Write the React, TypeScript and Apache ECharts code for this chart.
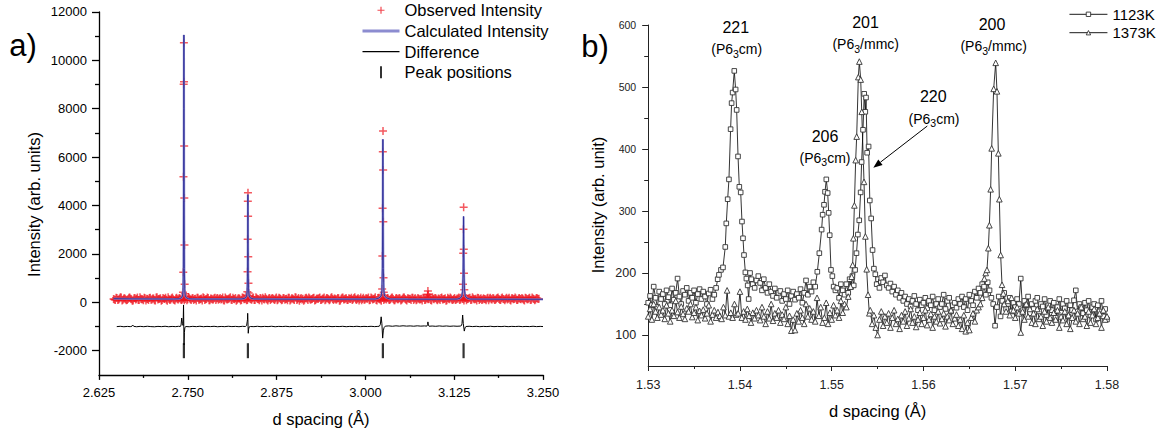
import React, { useEffect, useRef } from 'react';
import * as echarts from 'echarts';

const FONT = 'Liberation Sans, Arial, Helvetica, sans-serif';

// ---------------- Panel a) ----------------
const obsStart = 2.6455;
const obsStep = 0.0024;
const obsNoise = [
  140,95,180,120,210,75,160,130,100,190,145,60,170,115,200,90,150,125,185,70,
  135,175,105,160,85,195,120,150,65,180,140,110,205,95,165,130,75,190,120,155,
  100,170,135,80,215,125,160,90,145,185,110,140,70,175,130,195,85,155,120,165,
  95,180,140,115,200,75,150,130,170,105,190,125,60,160,145,100,185,135,80,170,
  150,110,195,90,165,130,175,70,140,205,115,155,95,180,125,160,85,190,135,105,
  170,140,80,185,120,155,100,200,130,65,175,145,110,190,90,160,125,180,75,150,
  135,195,105,160,85,175,140,120,210,95,150,130,170,70,185,115,155,100,165,140,
  90,180,125,150,75,195,135,110,170,145,85,200,120,160,100,175,130,65,185,150,
  115,165,95,190,140,80,175,125,155,105,195,135,70,160,145,185,90,170,120,150,
  130,75,185,110,160,140,95,205,125,170,85,150,180,115,140,65,190,130,160,100,
  175,120,150,90,195,135,165,80,145,185,110,160,125,70,180,140,100,170,130,155,
  85,190,120,160,105,175,140,95,200,130,150,115,185,75,165,135,155,100,180,125,
  145,70,170,130,190,110,155,85,175,140,
];
// second interleaved set of observed points (offset by half a step)
const obsNoiseB = [
  120,185,90,155,200,110,165,80,140,195,125,70,180,150,100,210,130,85,170,145,
  95,190,115,160,75,205,135,170,100,150,185,65,140,120,195,90,160,130,175,105,
  145,80,200,125,165,95,180,140,70,190,115,155,205,100,135,175,85,150,120,190,
  160,105,175,135,85,195,120,150,210,90,140,180,110,165,75,200,130,155,95,185,
  125,170,100,205,140,80,160,190,115,145,70,180,135,155,100,195,120,165,85,175,
  110,150,190,75,165,130,205,95,180,140,120,60,170,150,195,105,135,185,90,160,
  180,100,145,200,120,165,80,190,135,155,105,175,65,145,200,125,170,95,150,185,
  130,205,95,165,140,80,185,115,155,195,100,170,135,210,75,150,120,180,90,160,
  175,105,140,195,85,160,125,180,70,150,200,110,165,135,95,190,145,80,175,120,
  150,185,100,165,130,205,75,145,180,115,160,95,195,125,170,85,150,200,110,140,
  90,160,195,120,145,75,180,135,165,100,205,125,150,185,95,170,115,140,80,190,
  160,125,175,95,150,200,110,165,135,80,185,145,105,170,125,195,90,155,140,175,
  105,185,130,160,95,200,140,115,170,150,
];
const obsPeak1 = [[2.7428,250],[2.7432,420],[2.7436,1240],[2.7439,5190],[2.7442,9008],[2.7445,10727],[2.7447,9116],[2.7449,6459],[2.7451,4310],[2.7453,2368],[2.7456,744],[2.746,350],[2.7464,240]];
const obsPeak2 = [[2.8334,300],[2.8338,438],[2.8341,1264],[2.8343,2603],[2.8345,4173],[2.8347,4529],[2.8349,3554],[2.8351,1884],[2.8354,785],[2.8358,380],[2.8362,260]];
const obsPeak3 = [[3.0232,320],[3.0236,550],[3.0239,1913],[3.0242,3884],[3.0245,6223],[3.0248,7078],[3.025,5467],[3.0252,3331],[3.0255,1017],[3.0259,420],[3.0263,260]];
const obsSmall = [[3.0876,300],[3.088,467],[3.0884,330]];
const obsPeak4 = [[3.137,300],[3.1374,744],[3.1377,2025],[3.138,3017],[3.1383,3926],[3.1385,2190],[3.1388,1198],[3.1392,520],[3.1397,280]];

const calcCurve = [
  [2.6455,150],[2.67,142],[2.7,138],[2.73,135],[2.738,145],[2.741,185],[2.7425,260],[2.7433,480],[2.7438,1400],[2.7441,4200],[2.7443,8000],[2.7445,11050],[2.7447,8000],[2.7449,4200],[2.7452,1400],[2.7457,480],[2.7465,260],[2.748,185],[2.751,145],[2.76,135],
  [2.8,132],[2.826,138],[2.831,175],[2.8328,260],[2.8336,470],[2.8341,1200],[2.8344,2700],[2.8346,4450],[2.8348,2700],[2.8351,1200],[2.8356,470],[2.8364,260],[2.8382,175],[2.843,138],[2.87,130],
  [2.95,128],[3.014,135],[3.019,175],[3.0222,260],[3.0232,480],[3.0239,1400],[3.0243,3600],[3.0246,6735],[3.0249,3600],[3.0253,1400],[3.026,480],[3.027,260],[3.0302,175],[3.035,135],[3.06,128],
  [3.1,126],[3.129,132],[3.1335,170],[3.1358,260],[3.1368,460],[3.1375,1150],[3.1379,2300],[3.1382,3550],[3.1385,2300],[3.1389,1150],[3.1396,460],[3.1406,260],[3.1429,170],[3.1475,132],[3.2,126],[3.25,124],
];

const diffCurve = [
  [2.65,-1005],[2.655,-992],[2.66,-1010],[2.665,-996],[2.669,-1006],[2.6715,-985],[2.6727,-945],[2.674,-995],[2.678,-1010],[2.683,-994],[2.688,-1008],[2.693,-990],[2.698,-1004],[2.703,-1012],[2.708,-995],[2.713,-1006],[2.718,-990],[2.723,-1010],[2.728,-997],[2.733,-1006],[2.737,-992],[2.7395,-1000],
  [2.7405,-940],[2.7414,-650],[2.7424,-880],[2.7434,-960],[2.744,-110],[2.7447,-1760],[2.7452,-1250],[2.7458,-1060],[2.747,-1000],
  [2.752,-1010],[2.757,-994],[2.762,-1006],[2.767,-990],[2.772,-1008],[2.777,-996],[2.782,-1004],[2.787,-992],[2.792,-1010],[2.797,-998],[2.802,-1006],[2.807,-990],[2.812,-1004],[2.817,-995],[2.822,-1008],[2.827,-992],
  [2.831,-1000],[2.8328,-960],[2.8336,-800],[2.834,-720],[2.8343,-455],[2.8347,-820],[2.8351,-1280],[2.8356,-1110],[2.8363,-1020],[2.838,-1000],
  [2.843,-1006],[2.848,-992],[2.853,-1008],[2.858,-996],[2.863,-1004],[2.868,-990],[2.873,-1010],[2.878,-995],[2.883,-1003],[2.888,-991],[2.893,-1007],[2.898,-997],[2.903,-1005],[2.908,-990],[2.913,-1009],[2.918,-996],[2.923,-1002],[2.928,-993],[2.933,-1008],[2.938,-995],[2.943,-1004],[2.948,-990],[2.953,-1006],[2.958,-997],[2.963,-1003],[2.968,-992],[2.973,-1008],[2.978,-996],[2.983,-1004],[2.988,-991],[2.993,-1006],[2.998,-995],[3.003,-1003],[3.008,-992],[3.013,-1005],[3.0175,-996],
  [3.0195,-990],[3.021,-920],[3.0222,-600],[3.0232,-880],[3.0243,-1480],[3.0252,-1180],[3.0262,-1050],[3.028,-985],
  [3.033,-975],[3.038,-990],[3.043,-972],[3.048,-986],[3.053,-970],[3.058,-984],[3.063,-975],[3.068,-988],[3.073,-972],[3.078,-985],[3.083,-976],
  [3.0865,-985],[3.0875,-920],[3.088,-810],[3.0887,-940],[3.0897,-990],
  [3.094,-980],[3.099,-992],[3.104,-976],[3.109,-990],[3.114,-978],[3.119,-992],[3.124,-980],[3.129,-990],[3.1335,-982],
  [3.1352,-960],[3.136,-880],[3.1369,-525],[3.1378,-880],[3.1392,-1190],[3.1402,-1060],[3.1415,-1000],
  [3.146,-990],[3.151,-1004],[3.156,-992],[3.161,-1008],[3.166,-995],[3.171,-1003],[3.176,-990],[3.181,-1006],[3.186,-996],[3.191,-1004],[3.196,-991],[3.201,-1007],[3.206,-995],[3.211,-1002],[3.216,-992],[3.221,-1006],[3.226,-997],[3.231,-1004],[3.236,-990],[3.241,-1005],[3.246,-996],[3.25,-1002],
];

const peakPositions = [2.7445, 2.8346, 3.0246, 3.1382];
const peakTickLevel = -2000;

const leftYMajor = [-2000, 0, 2000, 4000, 6000, 8000, 10000, 12000];
const leftYMinor = [-1000, 1000, 3000, 5000, 7000, 9000, 11000];

// ---------------- Panel b) ----------------
const gridStart = 1.53;
const gridStep = 0.0002;
const N = null;
const bg1123 = [
  152,163,148,178,160,145,170,158,166,150,
  172,161,148,175,157,168,191,162,150,171,
  165,176,155,168,160,172,152,166,174,158,
  170,162,150,167,173,158,165,176,N,N,
  N,N,N,N,N,N,N,N,N,N,
  N,N,N,N,N,N,N,N,176,188,
  195,184,172,190,176,168,182,170,163,175,
  160,168,171,155,166,158,172,150,163,170,
  157,166,160,174,152,168,188,165,178,170,
  185,178,N,N,N,N,N,N,N,N,
  N,N,172,176,160,182,172,165,N,N,
  N,N,N,N,N,N,N,N,N,N,
  N,N,N,N,N,N,N,192,185,196,
  180,176,183,170,178,165,172,160,168,155,
  162,150,158,146,155,163,150,140,157,148,
  152,160,143,155,148,162,140,150,158,145,
  150,165,142,155,160,138,148,152,144,158,
  150,162,145,158,140,165,155,148,170,160,
  175,168,182,178,165,185,172,160,150,115,
  145,162,130,155,168,142,150,160,138,152,
  145,158,150,191,140,155,148,162,135,150,
  142,155,160,138,150,146,158,132,148,155,
  140,152,128,145,158,136,150,143,155,130,
  148,140,156,172,138,150,145,135,152,140,
  155,132,145,150,125,148,138,155,130,142,125,
];
const peak221 = [[1.53757,190],[1.53771,197],[1.53793,205],[1.53815,209],[1.5384,242],[1.53851,280],[1.53866,319],[1.5388,351],[1.53898,432],[1.53909,474],[1.5392,491],[1.53938,526],[1.53953,496],[1.53964,463],[1.53979,388],[1.53993,339],[1.54008,330],[1.54022,283],[1.54033,256],[1.54044,229],[1.54059,201],[1.5407,191],[1.54084,180],[1.54095,158],[1.5411,200],[1.54124,190],[1.54139,182]];
const peak206 = [[1.54843,202],[1.54865,232],[1.5489,270],[1.54901,294],[1.54916,310],[1.54927,331],[1.54941,351],[1.54956,329],[1.54967,297],[1.54978,261],[1.54992,205],[1.55007,195],[1.55021,178]];
const peak220 = [[1.5516,182],[1.5518,168],[1.55195,190],[1.5521,178],[1.55225,195],[1.5524,180],[1.55255,205],[1.5527,232],[1.55285,262],[1.553,285],[1.55315,330],[1.55326,379],[1.55341,431],[1.55354,489],[1.55366,460],[1.55374,483],[1.55386,394],[1.55402,404],[1.55415,317],[1.5543,288],[1.55445,237],[1.5546,207],[1.55475,198],[1.5549,182],[1.55505,190],[1.5552,176],[1.55535,186]];

const bg1373 = [
  130,142,125,150,138,128,145,133,140,126,
  148,135,122,140,131,155,137,128,146,134,
  126,143,138,150,129,136,145,124,139,132,
  141,127,135,148,122,133,140,128,137,131,
  126,145,132,172,130,136,128,150,133,135,
  170,128,138,125,142,131,120,136,127,140,
  132,124,145,130,118,138,127,150,123,135,
  128,140,120,133,126,145,118,131,107,125,
  108,135,122,140,128,118,150,130,143,125,
  138,122,160,131,145,120,128,152,118,136,
  125,148,132,140,128,155,136,150,145,162,
  N,N,N,N,N,N,N,N,N,N,
  N,140,118,132,112,100,125,138,115,130,
  120,135,112,128,140,118,126,110,132,122,
  138,115,127,142,120,130,113,125,136,118,
  128,140,116,125,134,112,130,122,138,119,
  126,135,114,130,124,140,118,127,133,115,
  125,110,132,106,120,108,128,135,122,140,
  145,150,160,N,N,N,N,N,N,N,
  N,N,N,N,150,138,155,132,160,140,
  128,145,135,104,138,125,150,130,142,120,
  135,118,142,126,130,115,138,122,145,128,
  120,136,125,140,112,130,124,138,118,132,
  110,128,140,122,135,118,145,126,130,115,
  138,120,132,142,118,128,135,112,140,125,130,
];
const peak201 = [[1.55205,178],[1.55217,194],[1.55228,213],[1.55236,256],[1.55247,309],[1.55261,382],[1.55272,420],[1.5529,516],[1.55301,541],[1.55316,512],[1.55327,460],[1.55352,347],[1.55367,259],[1.55381,206],[1.55396,165],[1.5541,135]];
const peak200 = [[1.56663,191],[1.56678,200],[1.56692,205],[1.56707,240],[1.56718,277],[1.56732,335],[1.56743,401],[1.56765,497],[1.56787,539],[1.56801,493],[1.56816,393],[1.56827,319],[1.56841,229],[1.56856,181],[1.5687,167]];

const rightYMajor = [100, 200, 300, 400, 500, 600];
const rightYMinor = [150, 250, 350, 450, 550];

function mergeSeries(bg: (number | null)[], start: number, step: number, peaks: number[][][]) {
  const pts: number[][] = [];
  bg.forEach((v, i) => {
    if (v !== null) pts.push([+(start + i * step).toFixed(5), v]);
  });
  peaks.forEach((p) => p.forEach((q) => pts.push(q)));
  pts.sort((a, b) => a[0] - b[0]);
  return pts;
}

function buildOption() {
  const obsData: number[][] = obsNoise.map((v, i) => [+(obsStart + i * obsStep).toFixed(4), v]);
  obsNoiseB.forEach((v, i) => obsData.push([+(obsStart + obsStep / 2 + i * obsStep).toFixed(4), v]));
  [obsPeak1, obsPeak2, obsPeak3, obsSmall, obsPeak4].forEach((p) => p.forEach((q) => obsData.push(q)));
  const peakData = peakPositions.map((x) => [x, peakTickLevel]);
  const s1123 = mergeSeries(bg1123, gridStart, gridStep, [peak221, peak206, peak220]);
  const s1373 = mergeSeries(bg1373, gridStart, gridStep, [peak201, peak200]);

  const axisBlack = { color: '#000', width: 1.3 };
  const axisDark = { color: '#222', width: 1 };

  const sub = { fontSize: 10.5, padding: [9, 0, 0, 0] };
  const txt = (x: number, y: number, text: string, fontSize: number, extra: any = {}) => ({
    type: 'text',
    x,
    y,
    silent: true,
    ...extra,
    style: {
      text,
      fontSize,
      fontFamily: FONT,
      fill: '#000',
      align: 'center',
      verticalAlign: 'middle',
      rich: { s: sub },
    },
  });

  const legA = { fontSize: 16.5, color: '#000', fontFamily: FONT };
  const legB = { fontSize: 15, color: '#000', fontFamily: FONT };

  // arrow for 220
  const ax1 = 927.3, ay1 = 126, ax2 = 873.3, ay2 = 167.7;
  const len = Math.hypot(ax2 - ax1, ay2 - ay1);
  const ux = (ax2 - ax1) / len, uy = (ay2 - ay1) / len;
  const hl = 9, hw = 3.5;
  const bx = ax2 - ux * hl, by = ay2 - uy * hl;

  return {
    animation: false,
    backgroundColor: '#fff',
    textStyle: { fontFamily: FONT },
    grid: [
      { left: 99, top: 11.9, width: 444, height: 363 },
      { left: 648.2, top: 25, width: 458.8, height: 341 },
    ],
    xAxis: [
      {
        gridIndex: 0, type: 'value', min: 2.625, max: 3.25, interval: 0.125,
        axisLine: { onZero: false, lineStyle: axisBlack },
        axisTick: { length: 5, lineStyle: axisBlack },
        minorTick: { show: true, splitNumber: 2, length: 3, lineStyle: axisBlack },
        splitLine: { show: false }, minorSplitLine: { show: false },
        axisLabel: { margin: 11, fontSize: 13, color: '#000', fontFamily: FONT, formatter: (v: number) => v.toFixed(3) },
      },
      {
        gridIndex: 1, type: 'value', min: 1.53, max: 1.58, interval: 0.01,
        axisLine: { onZero: false, lineStyle: axisDark },
        axisTick: { length: 5, lineStyle: axisDark },
        minorTick: { show: true, splitNumber: 2, length: 3, lineStyle: axisDark },
        splitLine: { show: false }, minorSplitLine: { show: false },
        axisLabel: { margin: 12.5, fontSize: 12.5, color: '#222', fontFamily: FONT, formatter: (v: number) => v.toFixed(2) },
      },
    ],
    yAxis: [
      {
        gridIndex: 0, type: 'value', min: -3000, max: 12000, position: 'left',
        axisLine: { show: true, onZero: false, lineStyle: axisBlack },
        axisTick: { show: true, length: 7, customValues: leftYMajor, lineStyle: axisBlack },
        axisLabel: { margin: 12, fontSize: 13, color: '#000', fontFamily: FONT, customValues: leftYMajor, formatter: (v: number) => String(v) },
        splitLine: { show: false },
      },
      {
        gridIndex: 0, type: 'value', min: -3000, max: 12000, position: 'left',
        axisLine: { show: false, onZero: false },
        axisTick: { show: true, length: 4, customValues: leftYMinor, lineStyle: axisBlack },
        axisLabel: { show: false },
        splitLine: { show: false },
      },
      {
        gridIndex: 1, type: 'value', min: 50, max: 600, position: 'left',
        axisLine: { show: true, onZero: false, lineStyle: axisDark },
        axisTick: { show: true, length: 6, customValues: rightYMajor, lineStyle: axisDark },
        axisLabel: {
          margin: 12, color: '#222', fontFamily: FONT, customValues: rightYMajor,
          formatter: (v: number) => (v >= 300 ? `{s|${v}}` : `{b|${v}}`),
          rich: { s: { fontSize: 10.5, color: '#222', fontFamily: FONT }, b: { fontSize: 12.5, color: '#222', fontFamily: FONT } },
        },
        splitLine: { show: false },
      },
      {
        gridIndex: 1, type: 'value', min: 50, max: 600, position: 'left',
        axisLine: { show: false, onZero: false },
        axisTick: { show: true, length: 4, customValues: rightYMinor, lineStyle: axisDark },
        axisLabel: { show: false },
        splitLine: { show: false },
      },
    ],
    legend: [
      {
        left: 360, top: 1.75, orient: 'vertical', padding: 0, itemWidth: 37, itemHeight: 12, itemGap: 3.7,
        selectedMode: false,
        textStyle: legA,
        data: [
          { name: 'Observed Intensity', textStyle: legA, icon: 'path://M0,0M12,12M2.5,6H9.5M6,2.5V9.5', itemStyle: { color: 'none', borderColor: '#ee1c25', borderWidth: 1.2 } },
          { name: 'Calculated Intensity', textStyle: legA, icon: 'path://M0,0M0,12M0,6H37', itemStyle: { color: 'none', borderColor: '#8c8cd0', borderWidth: 3 } },
          { name: 'Difference', textStyle: legA, icon: 'path://M0,0M0,12M0,6H37', itemStyle: { color: 'none', borderColor: '#000', borderWidth: 1.3 } },
          { name: 'Peak positions', textStyle: legA, icon: 'path://M0,0H2V12H0Z', itemStyle: { color: '#000', borderWidth: 0 } },
        ],
      },
      {
        left: 1069, top: 6.8, orient: 'vertical', padding: 0, itemWidth: 38, itemHeight: 5.5, itemGap: 3.4,
        selectedMode: false,
        textStyle: legB,
        data: [
          { name: '1123K', textStyle: legB, itemStyle: { color: '#fff', borderColor: '#333', borderWidth: 0.9 }, lineStyle: { color: '#000', width: 0.9 } },
          { name: '1373K', textStyle: legB, itemStyle: { color: '#fff', borderColor: '#333', borderWidth: 0.9 }, lineStyle: { color: '#000', width: 0.9 } },
        ],
      },
    ],
    series: [
      {
        name: 'Observed Intensity', type: 'scatter', xAxisIndex: 0, yAxisIndex: 0,
        symbol: 'path://M0,4H8M4,0V8', symbolSize: 8,
        itemStyle: { color: 'rgba(0,0,0,0)', borderColor: 'rgba(238,18,28,0.88)', borderWidth: 1.5 },
        data: obsData,
      },
      {
        name: 'Calculated Intensity', type: 'line', xAxisIndex: 0, yAxisIndex: 0, symbol: 'none',
        lineStyle: { color: 'rgba(140,140,210,0.8)', width: 2.2 },
        data: calcCurve,
      },
      {
        name: 'calc-core', type: 'line', xAxisIndex: 0, yAxisIndex: 0, symbol: 'none',
        lineStyle: { color: '#2e2e98', width: 0.9 },
        data: calcCurve,
      },
      {
        name: 'Difference', type: 'line', xAxisIndex: 0, yAxisIndex: 0, symbol: 'none',
        lineStyle: { color: '#000', width: 1 },
        data: diffCurve,
      },
      {
        name: 'Peak positions', type: 'scatter', xAxisIndex: 0, yAxisIndex: 0,
        symbol: 'rect', symbolSize: [2.2, 15],
        itemStyle: { color: '#000' },
        data: peakData,
      },
      {
        name: '1123K', type: 'line', xAxisIndex: 1, yAxisIndex: 2,
        symbol: 'rect', symbolSize: 4.6, showSymbol: true,
        lineStyle: { color: '#000', width: 0.8 },
        itemStyle: { color: '#fff', borderColor: '#333', borderWidth: 0.9 },
        data: s1123,
      },
      {
        name: '1373K', type: 'line', xAxisIndex: 1, yAxisIndex: 2,
        symbol: 'triangle', symbolSize: 5.6, showSymbol: true,
        lineStyle: { color: '#000', width: 0.8 },
        itemStyle: { color: '#fff', borderColor: '#333', borderWidth: 0.9 },
        data: s1373,
      },
    ],
    graphic: [
      txt(23, 45, 'a)', 31),
      txt(595, 46.5, 'b)', 31),
      txt(321, 419, 'd spacing (Å)', 16.5),
      txt(34, 204.5, 'Intensity (arb. units)', 16.5, { rotation: Math.PI / 2 }),
      txt(877.6, 410.7, 'd spacing (Å)', 16.5),
      txt(598, 205, 'Intensity (arb. unit)', 16.5, { rotation: Math.PI / 2 }),
      txt(735.8, 27.5, '221', 16),
      txt(736.7, 49, '(P6{s|3}cm)', 14),
      txt(865.5, 22.5, '201', 16),
      txt(865.7, 44, '(P6{s|3}/mmc)', 14),
      txt(992, 24, '200', 16),
      txt(993.7, 46, '(P6{s|3}/mmc)', 14),
      txt(933.3, 96.7, '220', 16),
      txt(934, 118.7, '(P6{s|3}cm)', 14),
      txt(825, 136.7, '206', 16),
      txt(825, 157.5, '(P6{s|3}cm)', 14),
      {
        type: 'line', silent: true,
        shape: { x1: ax1, y1: ay1, x2: bx, y2: by },
        style: { stroke: '#000', lineWidth: 1 },
      },
      {
        type: 'polygon', silent: true,
        shape: { points: [[ax2, ay2], [bx + uy * hw, by - ux * hw], [bx - uy * hw, by + ux * hw]] },
        style: { fill: '#000' },
      },
    ],
  };
}

export default function App() {
  const ref = useRef<HTMLDivElement>(null);
  useEffect(() => {
    if (!ref.current) return;
    const chart = echarts.init(ref.current, null, { renderer: 'svg' });
    chart.setOption(buildOption() as any);
    return () => chart.dispose();
  }, []);
  return (
    <div
      ref={ref}
      style={{ position: 'absolute', left: 0, top: 0, width: 1164, height: 431, background: '#fff' }}
    />
  );
}
